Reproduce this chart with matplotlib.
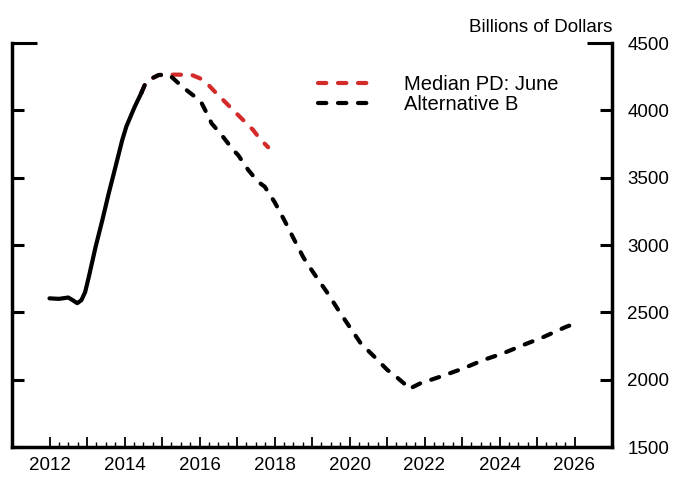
import matplotlib
matplotlib.use("Agg")
import matplotlib.pyplot as plt
from matplotlib.ticker import FixedLocator, NullFormatter

plt.rcParams['font.family'] = ['Liberation Sans', 'DejaVu Sans']

# history (solid black)
hist_years = [2012.0, 2012.25, 2012.5, 2012.62, 2012.74, 2012.85, 2012.95, 2013.05, 2013.23,
              2013.41, 2013.58, 2013.76, 2013.94, 2014.05, 2014.16, 2014.27, 2014.38, 2014.45]
hist_vals = [2604, 2600, 2610, 2590, 2568, 2590, 2650, 2765, 2987,
             3186, 3384, 3581, 3780, 3880, 3953, 4025, 4089, 4130]

# Alternative B projection (dashed black)
altb_years = [2014.45, 2014.56, 2014.75, 2014.91, 2015.05, 2015.2, 2015.44, 2015.7, 2015.88,
              2016.06, 2016.24, 2016.32, 2016.59, 2016.9, 2017.03, 2017.3, 2017.56, 2017.74,
              2018.0, 2018.27, 2018.53, 2018.76, 2018.84, 2019.11, 2019.42, 2019.73, 2020.0,
              2020.3, 2020.66, 2021.01, 2021.19, 2021.45, 2021.58, 2021.89, 2022.42, 2023.04,
              2023.57, 2024.10, 2024.63, 2025.16, 2025.78, 2025.95]
altb_vals = [4130, 4201, 4240, 4262, 4265, 4262, 4201, 4140, 4101,
             4052, 3953, 3904, 3817, 3705, 3668, 3557, 3470, 3433,
             3320, 3180, 3037, 2913, 2876, 2765, 2641, 2505, 2393,
             2270, 2171, 2072, 2035, 1973, 1930, 1973, 2022, 2084,
             2146, 2196, 2257, 2315, 2393, 2410]

# Median PD: June (dashed red)
median_years = [2014.45, 2014.56, 2014.75, 2014.91, 2015.2, 2015.44, 2015.8, 2016.01, 2016.24,
                2016.41, 2016.63, 2016.85, 2017.03, 2017.25, 2017.43, 2017.6, 2017.83]
median_vals = [4130, 4201, 4240, 4262, 4265, 4265, 4262, 4238, 4188,
               4138, 4077, 4015, 3965, 3904, 3854, 3792, 3726]

year_ticks = list(range(2012, 2027))
year_labels = [str(y) if y % 2 == 0 else '' for y in year_ticks]
quarter_ticks = [y + q / 4 for y in range(2012, 2026) for q in (1, 2, 3)]
y_ticks = [1500, 2000, 2500, 3000, 3500, 4000, 4500]

fig = plt.figure(figsize=(6.73, 4.78), dpi=100)
ax = fig.add_axes([12 / 673, 31 / 478, 600 / 673, 404 / 478])

red = '#d42a2a'
lw = 3
red_line, = ax.plot(median_years, median_vals, color=red, lw=lw, dashes=(2, 2.8),
                    dash_capstyle='round', label='Median PD: June')
ax.plot(hist_years, hist_vals, color='black', lw=lw, solid_capstyle='round')
altb_line, = ax.plot(altb_years, altb_vals, color='black', lw=lw, dashes=(2, 2.8),
                     dash_capstyle='round', label='Alternative B')

ax.set_xlim(2011.0, 2027.0)
ax.set_ylim(1500, 4500)

ax.spines['top'].set_visible(False)
for s in ['left', 'right', 'bottom']:
    ax.spines[s].set_linewidth(2.5)

ax.xaxis.set_major_locator(FixedLocator(year_ticks))
ax.set_xticklabels(year_labels)
ax.xaxis.set_minor_locator(FixedLocator(quarter_ticks))
ax.xaxis.set_minor_formatter(NullFormatter())
ax.tick_params(axis='x', which='major', direction='in', length=7, width=1.3, pad=7, labelsize=13.5)
ax.tick_params(axis='x', which='minor', direction='in', length=3.6, width=1.0)

ax.set_yticks(y_ticks)
ax.tick_params(axis='y', which='major', direction='in', length=8.6, width=2.2,
               left=True, right=True, labelleft=False, labelright=True, pad=11, labelsize=13.5)
top_tick = ax.yaxis.get_major_ticks()[-1]
top_tick.tick1line.set_markersize(18)
top_tick.tick2line.set_markersize(18)

ax.legend(handles=[red_line, altb_line], loc='upper left', bbox_to_anchor=(0.51, 0.92),
          frameon=False, fontsize=14.5, borderpad=0, borderaxespad=0, handlelength=2.75,
          handletextpad=1.5, labelspacing=0.05)

fig.text(612 / 673, 1 - 32 / 478, 'Billions of Dollars', ha='right', va='baseline', fontsize=13.5)

fig.savefig('out.png', dpi=100)
